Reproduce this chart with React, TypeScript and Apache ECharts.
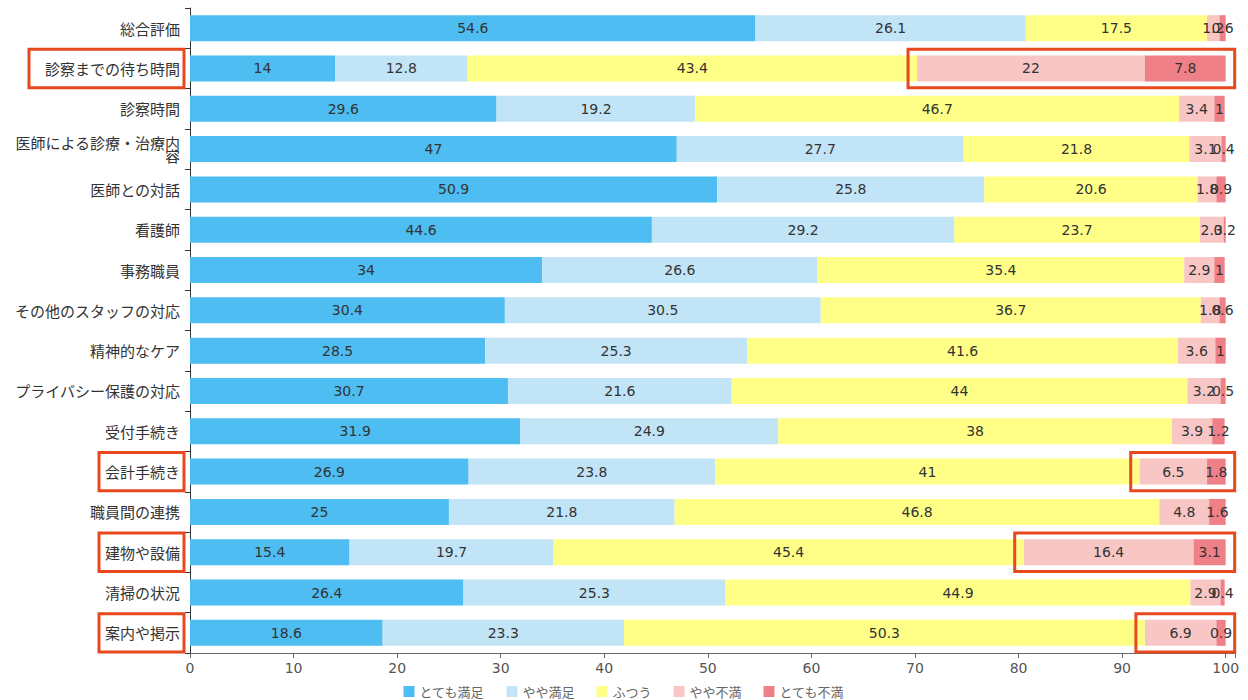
import React, { useEffect, useRef } from "react";
import * as echarts from "echarts";

const categories = [
  "総合評価",
  "診察までの待ち時間",
  "診察時間",
  "医師による診療・治療内容",
  "医師との対話",
  "看護師",
  "事務職員",
  "その他のスタッフの対応",
  "精神的なケア",
  "プライバシー保護の対応",
  "受付手続き",
  "会計手続き",
  "職員間の連携",
  "建物や設備",
  "清掃の状況",
  "案内や掲示",
];

const seriesNames = ["とても満足", "やや満足", "ふつう", "やや不満", "とても不満"];
const verySatisfied = [54.6, 14, 29.6, 47, 50.9, 44.6, 34, 30.4, 28.5, 30.7, 31.9, 26.9, 25, 15.4, 26.4, 18.6];
const satisfied = [26.1, 12.8, 19.2, 27.7, 25.8, 29.2, 26.6, 30.5, 25.3, 21.6, 24.9, 23.8, 21.8, 19.7, 25.3, 23.3];
const neutral = [17.5, 43.4, 46.7, 21.8, 20.6, 23.7, 35.4, 36.7, 41.6, 44, 38, 41, 46.8, 45.4, 44.9, 50.3];
const dissatisfied = [1.2, 22, 3.4, 3.1, 1.8, 2.3, 2.9, 1.8, 3.6, 3.2, 3.9, 6.5, 4.8, 16.4, 2.9, 6.9];
const veryDissatisfied = [0.6, 7.8, 1, 0.4, 0.9, 0.2, 1, 0.6, 1, 0.5, 1.2, 1.8, 1.6, 3.1, 0.4, 0.9];
const seriesColors = ["#4dbdf2", "#c2e4f7", "#ffff88", "#f8c6c4", "#f08088"];
const xTicks = [0, 10, 20, 30, 40, 50, 60, 70, 80, 90, 100];

// highlighted rows (annotation boxes)
const highlighted = [
  { cat: "診察までの待ち時間", pad: 16 },
  { cat: "会計手続き", pad: 6 },
  { cat: "建物や設備", pad: 6 },
  { cat: "案内や掲示", pad: 6 },
];

const LABEL_FONT = "15px 'Noto Sans CJK JP'";

export default function App() {
  const ref = useRef<HTMLDivElement>(null);
  useEffect(() => {
    if (!ref.current) return;
    const chart = echarts.init(ref.current, null, { renderer: "svg" });
    const allData = [verySatisfied, satisfied, neutral, dissatisfied, veryDissatisfied];
    const yData = categories.map((c) =>
      c.length > 11
        ? { value: c, textStyle: { lineHeight: 13, padding: [12, 0, 0, 0] } }
        : c
    );
    chart.setOption({
      animation: false,
      grid: { left: 190, right: 13, top: 8, bottom: 47, containLabel: false },
      legend: {
        data: seriesNames,
        top: 680,
        left: "center",
        itemWidth: 11,
        itemHeight: 11,
        itemGap: 22,
        icon: "rect",
        textStyle: { fontSize: 13, color: "#666", fontFamily: "'Noto Sans CJK JP'" },
      },
      xAxis: {
        type: "value",
        min: 0,
        max: 100.9,
        interval: 10,
        axisLine: { show: true, lineStyle: { color: "#666" } },
        axisTick: { show: true, length: 5, lineStyle: { color: "#666" } },
        splitLine: { show: false },
        axisLabel: {
          fontSize: 14,
          color: "#555",
          margin: 8,
          fontFamily: "'DejaVu Sans'",
          formatter: (v: number) => (xTicks.indexOf(Math.round(v * 10) / 10) >= 0 ? String(v) : ""),
        },
      },
      yAxis: {
        type: "category",
        inverse: true,
        data: yData,
        axisLine: { show: true, lineStyle: { color: "#333" } },
        axisTick: { show: true, length: 5, lineStyle: { color: "#333" } },
        axisLabel: {
          fontSize: 15,
          color: "#333",
          margin: 10,
          width: 172,
          overflow: "break",
          fontFamily: "'Noto Sans CJK JP'",
        },
      },
      series: seriesNames.map((name, i) => ({
        name,
        type: "bar",
        stack: "total",
        barWidth: 26,
        data: allData[i],
        itemStyle: { color: seriesColors[i] },
        label: {
          show: true,
          position: "inside",
          color: "#333",
          fontSize: 14,
          fontFamily: "'DejaVu Sans'",
        },
      })),
    });

    // annotation boxes
    const ctx = document.createElement("canvas").getContext("2d");
    if (ctx) ctx.font = LABEL_FONT;
    const y0 = chart.convertToPixel({ yAxisIndex: 0 }, categories[0]) as number;
    const y1 = chart.convertToPixel({ yAxisIndex: 0 }, categories[1]) as number;
    const band = Math.abs(y1 - y0);
    const axisX = chart.convertToPixel({ xAxisIndex: 0 }, 0) as number;
    const x100 = chart.convertToPixel({ xAxisIndex: 0 }, 100) as number;
    const graphics: any[] = [];
    highlighted.forEach((h) => {
      const idx = categories.indexOf(h.cat);
      const yc = chart.convertToPixel({ yAxisIndex: 0 }, h.cat) as number;
      const tw = ctx ? ctx.measureText(h.cat).width : h.cat.length * 15;
      const labelRight = axisX - 10;
      const bx = labelRight - tw - h.pad;
      graphics.push({
        type: "rect",
        shape: { x: bx, y: yc - band / 2 + 1, width: axisX - 6 - bx, height: band - 2 },
        style: { fill: "none", stroke: "#e8481e", lineWidth: 3 },
        z: 100,
      });
      const start = verySatisfied[idx] + satisfied[idx] + neutral[idx];
      const sx = (chart.convertToPixel({ xAxisIndex: 0 }, start) as number) - 9;
      graphics.push({
        type: "rect",
        shape: { x: sx, y: yc - band / 2 + 1, width: x100 + 9 - sx, height: band - 2 },
        style: { fill: "none", stroke: "#e8481e", lineWidth: 3 },
        z: 100,
      });
    });
    chart.setOption({ graphic: graphics });

    return () => chart.dispose();
  }, []);
  return (
    <div
      ref={ref}
      style={{ position: "fixed", left: 0, top: 0, width: 1248, height: 700, background: "#fff" }}
    />
  );
}
